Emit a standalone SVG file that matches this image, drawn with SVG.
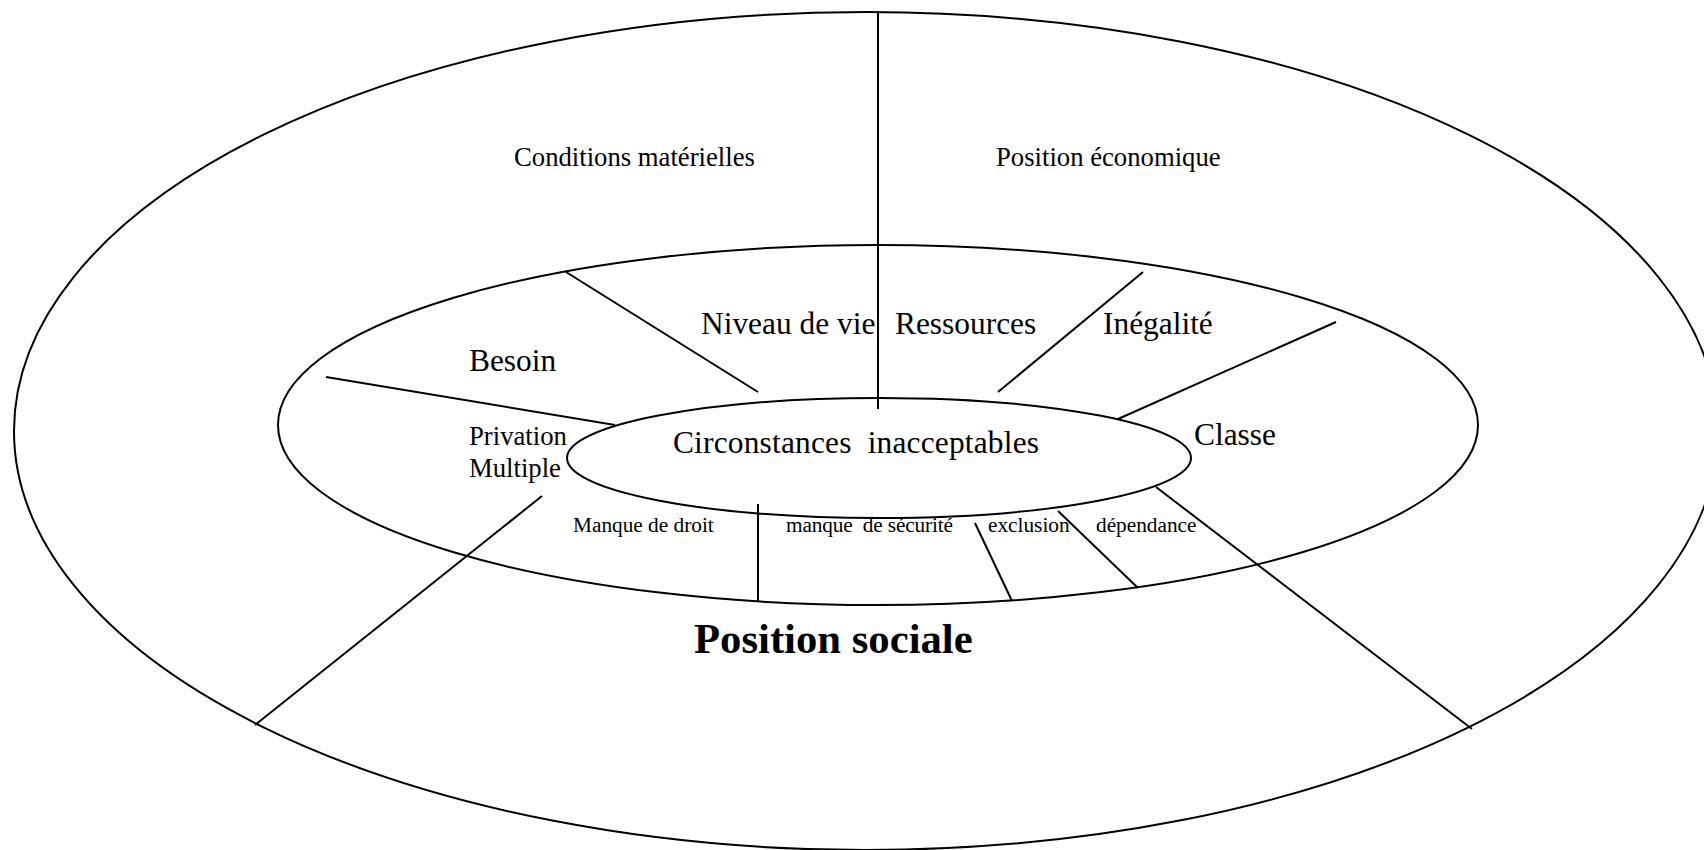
<svg xmlns="http://www.w3.org/2000/svg" width="1704" height="850" viewBox="0 0 1704 850">
  <style>
    .ring { fill: none; stroke: #000; stroke-width: 2; }
    .link { stroke: #000; stroke-width: 2; fill: none; }
    text { font-family: "Liberation Serif", "Times New Roman", serif; fill: #000; white-space: pre; }
    .lg { font-size: 31.4px; }
    .md { font-size: 26.7px; }
    .sm { font-size: 21.3px; }
    .title { font-size: 42.7px; font-weight: bold; }
  </style>
  <rect width="1704" height="850" fill="#fff"/>

  <!-- concentric rings -->
  <g id="outer-ring">
    <ellipse class="ring" cx="866" cy="431" rx="852" ry="419"/>
    <text class="md" x="514" y="166">Conditions matérielles</text>
    <text class="md" x="996" y="166">Position économique</text>
    <text class="title" x="694" y="653">Position sociale</text>
  </g>
  <g id="middle-ring">
    <ellipse class="ring" cx="878" cy="425" rx="600" ry="180"/>
    <text class="lg" x="701" y="334">Niveau de vie</text>
    <text class="lg" x="895" y="334">Ressources</text>
    <text class="lg" x="1103" y="334">Inégalité</text>
    <text class="lg" x="469" y="371">Besoin</text>
    <text class="md" x="469" y="445">Privation</text>
    <text class="md" x="469" y="477">Multiple</text>
    <text class="lg" x="1194" y="445">Classe</text>
    <text class="sm" x="573" y="532">Manque de droit</text>
    <text class="sm" x="786" y="532" textLength="167">manque  de sécurité</text>
    <text class="sm" x="988" y="532">exclusion</text>
    <text class="sm" x="1096" y="532">dépendance</text>
  </g>
  <g id="inner-ring">
    <ellipse class="ring" cx="879" cy="458" rx="312" ry="60"/>
    <text class="lg" x="673" y="453" textLength="366">Circonstances  inacceptables</text>
  </g>

  <!-- dividing lines -->
  <g id="connectors">
    <line class="link" x1="878" y1="11" x2="878" y2="409"/>
    <line class="link" x1="566" y1="272" x2="758" y2="392"/>
    <line class="link" x1="326" y1="377" x2="615" y2="425"/>
    <line class="link" x1="542" y1="496" x2="255" y2="725"/>
    <line class="link" x1="1143" y1="272" x2="998" y2="392"/>
    <line class="link" x1="1118" y1="419" x2="1336" y2="322"/>
    <line class="link" x1="1156" y1="487" x2="1472" y2="729"/>
    <line class="link" x1="758" y1="504" x2="758" y2="601"/>
    <line class="link" x1="975" y1="523" x2="1012" y2="601"/>
    <line class="link" x1="1058" y1="511" x2="1138" y2="588"/>
  </g>
</svg>
